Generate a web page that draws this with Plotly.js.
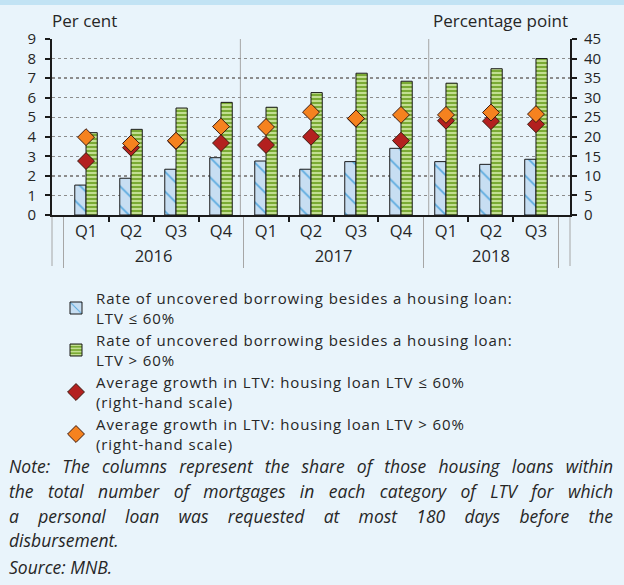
<!DOCTYPE html>
<html>
<head>
<meta charset="utf-8">
<script src="https://cdn.plot.ly/plotly-3.0.1.min.js"></script>
<style>
html,body{margin:0;padding:0;background:#e9f4fb;}
#chart{width:624px;height:585px;}
</style>
</head>
<body>
<div id="chart"></div>
<script>
// ---- data ----
const years = ['2016','2016','2016','2016','2017','2017','2017','2017','2018','2018','2018'];
const quarters = ['Q1','Q2','Q3','Q4','Q1','Q2','Q3','Q4','Q1','Q2','Q3'];
const rateLow = [1.53, 1.88, 2.34, 2.93, 2.76, 2.34, 2.73, 3.41, 2.73, 2.59, 2.85];
const rateHigh = [4.21, 4.38, 5.47, 5.76, 5.51, 6.26, 7.25, 6.84, 6.74, 7.48, 8.0];
const ltvGrowthLow = [13.8, 17.2, 18.9, 18.4, 17.9, 20.0, 24.6, 19.0, 24.1, 24.0, 23.2];
const ltvGrowthHigh = [19.9, 18.3, 19.0, 22.6, 22.5, 26.3, 24.7, 25.6, 25.6, 26.2, 25.8];
const leftTicks = [0,1,2,3,4,5,6,7,8,9];
const rightTicks = [0,5,10,15,20,25,30,35,40,45];

const nameLines = [
  ['Rate of uncovered borrowing besides a housing loan:', 'LTV ≤ 60%'],
  ['Rate of uncovered borrowing besides a housing loan:', 'LTV > 60%'],
  ['Average growth in LTV: housing loan LTV ≤ 60%', '(right-hand scale)'],
  ['Average growth in LTV: housing loan LTV > 60%', '(right-hand scale)']
];
const noteLines = [
  'Note: The columns represent the share of those housing loans within',
  'the total number of mortgages in each category of LTV for which',
  'a personal loan was requested at most 180 days before the',
  'disbursement.'
];
const sourceText = 'Source: MNB.';

const FONT = '"Open Sans", "Noto Sans", sans-serif';
const TXT = '#262626';
const x = [years, quarters];

const esc = s => s.replace(/&/g,'&amp;').replace(/</g,'&lt;').replace(/>/g,'&gt;');
const LEG_SIZE = 15;
const legName = lines => '<span style="letter-spacing:0.9px">' + lines.map(esc).join('<br>') + '</span>';

const traces = [
  {type:'bar', x:x, y:rateLow, name:legName(nameLines[0]),
   marker:{color:'#c7def2', line:{color:'#1a1a1a', width:1},
     pattern:{shape:'\\', fgcolor:'#5aaadf', bgcolor:'#c7def2', size:14, solidity:0.12}}},
  {type:'bar', x:x, y:rateHigh, name:legName(nameLines[1]),
   marker:{color:'#7aaa34', line:{color:'#1a1a1a', width:1},
     pattern:{shape:'-', fgcolor:'#cbe49c', bgcolor:'#7aaa34', size:4, solidity:0.45}}},
  {type:'scatter', mode:'markers', x:x, y:ltvGrowthLow, yaxis:'y2', name:legName(nameLines[2]),
   marker:{symbol:'diamond', size:13, color:'#b3201f', line:{color:'#3b1a10', width:1}}},
  {type:'scatter', mode:'markers', x:x, y:ltvGrowthHigh, yaxis:'y2', name:legName(nameLines[3]),
   marker:{symbol:'diamond', size:13, color:'#f5821f', line:{color:'#3b1a10', width:1}}}
];

const L = 52, R = 570, T = 39, B = 215;
const pw = R - L, ph = B - T;
const px = p => (p - L) / pw;
const py = p => (B - p) / ph;

// measure text for justified note lines
const ctx = document.createElement('canvas').getContext('2d');
const NOTE_SIZE = 17.5;
ctx.font = 'italic ' + NOTE_SIZE + 'px "Open Sans"';
const NOTE_W = 604;

const annotations = [
  {text:'Per cent', xref:'paper', yref:'paper', x:px(50), y:py(20), xanchor:'left', yanchor:'middle', showarrow:false, font:{family:FONT, size:17, color:TXT}},
  {text:'Percentage point', xref:'paper', yref:'paper', x:px(570), y:py(20), xanchor:'right', yanchor:'middle', showarrow:false, font:{family:FONT, size:17, color:TXT}}
];
const noteY = [466, 491, 516, 540];
noteLines.forEach((t,i)=>{
  let txt = esc(t);
  if (i < noteLines.length - 1) {
    const w = ctx.measureText(t).width;
    const gaps = t.split(' ').length - 1;
    const extra = Math.max(0, (NOTE_W - w) / gaps);
    txt = '<span style="word-spacing:' + extra.toFixed(2) + 'px">' + txt + '</span>';
  }
  annotations.push({text:'<i>'+txt+'</i>', xref:'paper', yref:'paper', x:px(7), y:py(noteY[i]), xanchor:'left', yanchor:'middle', showarrow:false, font:{family:FONT, size:NOTE_SIZE, color:TXT}});
});
annotations.push({text:'<i>'+esc(sourceText)+'</i>', xref:'paper', yref:'paper', x:px(7), y:py(567), xanchor:'left', yanchor:'middle', showarrow:false, font:{family:FONT, size:NOTE_SIZE, color:TXT}});

const shapes = [
  {type:'rect', xref:'paper', yref:'paper', x0:px(0), x1:px(624), y0:py(0), y1:py(5), fillcolor:'#c2e3f4', line:{width:0}, layer:'below'},
  {type:'line', xref:'paper', yref:'paper', x0:4/11, x1:4/11, y0:0, y1:1, line:{color:'#a6a6a6', width:1}, layer:'below'},
  {type:'line', xref:'paper', yref:'paper', x0:8/11, x1:8/11, y0:0, y1:1, line:{color:'#a6a6a6', width:1}, layer:'below'},
  {type:'line', xref:'paper', yref:'paper', x0:0, x1:0, y0:0, y1:py(266), line:{color:'#a6a6a6', width:1}, layer:'below'},
  {type:'line', xref:'paper', yref:'paper', x0:1, x1:1, y0:0, y1:py(266), line:{color:'#a6a6a6', width:1}, layer:'below'}
];

const layout = {
  width:624, height:585,
  margin:{l:L, r:624-R, t:T, b:585-B, pad:0, autoexpand:false},
  paper_bgcolor:'#e9f4fb', plot_bgcolor:'#e9f4fb',
  font:{family:FONT, size:16, color:TXT},
  barmode:'group', bargap:0.5, bargroupgap:0,
  showlegend:true,
  legend:{xref:'container', yref:'container', x:56/624, y:1-282/585, xanchor:'left', yanchor:'top',
    bgcolor:'rgba(0,0,0,0)', font:{family:FONT, size:LEG_SIZE, color:TXT}, tracegroupgap:0, itemwidth:30, traceorder:'normal'},
  xaxis:{type:'multicategory', automargin:false, tickangle:0, showline:true, linecolor:'#1a1a1a', linewidth:2,
    ticks:'outside', ticklen:5, tickwidth:2, tickcolor:'#1a1a1a',
    showdividers:true, dividercolor:'#a6a6a6', dividerwidth:1,
    tickfont:{family:FONT, size:16.5, color:TXT}, showgrid:false, zeroline:false},
  yaxis:{range:[0,9], tickvals:leftTicks, automargin:false, showline:true, linecolor:'#1a1a1a', linewidth:2,
    ticks:'outside', ticklen:5, tickwidth:2, tickcolor:'#1a1a1a', ticklabelstandoff:6,
    showgrid:true, gridcolor:'#8c8c8c', griddash:'dot', gridwidth:1.3, zeroline:false,
    tickfont:{family:FONT, size:15, color:TXT}},
  yaxis2:{range:[0,45], tickvals:rightTicks, automargin:false, overlaying:'y', side:'right', showline:true, linecolor:'#1a1a1a', linewidth:2,
    ticks:'outside', ticklen:5, tickwidth:2, tickcolor:'#1a1a1a', ticklabelstandoff:4, showgrid:false, zeroline:false,
    tickfont:{family:FONT, size:15, color:TXT}},
  annotations:annotations,
  shapes:shapes
};

Plotly.newPlot('chart', traces, layout, {displayModeBar:false, staticPlot:true});
</script>
</body>
</html>
